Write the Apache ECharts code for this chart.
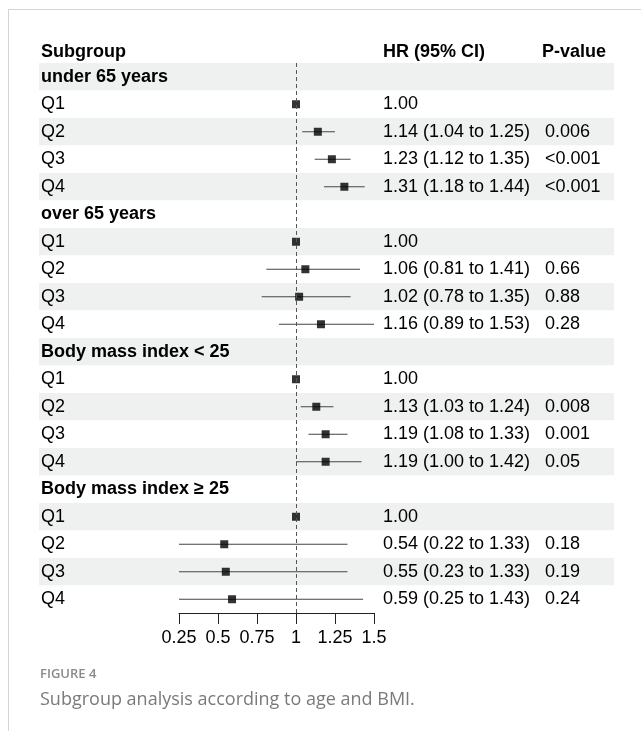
<!DOCTYPE html>
<html>
<head>
<meta charset="utf-8">
<script src="https://cdn.jsdelivr.net/npm/echarts@6/dist/echarts.min.js"></script>
<style>
  html, body { margin: 0; padding: 0; background: #fff; }
  #chart { width: 641px; height: 731px; }
</style>
</head>
<body>
<div id="chart"></div>
<script>
// Subgroups and quartile rows
const groups = ['under 65 years', 'over 65 years', 'Body mass index < 25', 'Body mass index \u2265 25'];
const quartiles = ['Q1', 'Q2', 'Q3', 'Q4'];

// Hazard ratios with 95% confidence limits (Q1 is the reference level)
const hr     = [[1.00, 1.14, 1.23, 1.31], [1.00, 1.06, 1.02, 1.16], [1.00, 1.13, 1.19, 1.19], [1.00, 0.54, 0.55, 0.59]];
const ciLow  = [[null, 1.04, 1.12, 1.18], [null, 0.81, 0.78, 0.89], [null, 1.03, 1.08, 1.00], [null, 0.22, 0.23, 0.25]];
const ciHigh = [[null, 1.25, 1.35, 1.44], [null, 1.41, 1.35, 1.53], [null, 1.24, 1.33, 1.42], [null, 1.33, 1.33, 1.43]];
const pValues = [['', '0.006', '<0.001', '<0.001'], ['', '0.66', '0.88', '0.28'], ['', '0.008', '0.001', '0.05'], ['', '0.18', '0.19', '0.24']];

// Hazard ratio axis
const xMin = 0.25, xMax = 1.5, xStep = 0.25, refLine = 1;

// Flatten into table rows
const rowLabels = [], rowIsGroup = [], hrText = [], pText = [];
const points = [], intervals = [];
groups.forEach((g, gi) => {
  rowLabels.push(g); rowIsGroup.push(true); hrText.push(''); pText.push('');
  quartiles.forEach((q, qi) => {
    const r = rowLabels.length;
    const v = hr[gi][qi], lo = ciLow[gi][qi], hi = ciHigh[gi][qi];
    rowLabels.push(q); rowIsGroup.push(false);
    hrText.push(v.toFixed(2) + (lo != null ? ' (' + lo.toFixed(2) + ' to ' + hi.toFixed(2) + ')' : ''));
    pText.push(pValues[gi][qi]);
    points.push([v, r]);
    if (lo != null) intervals.push([lo, hi, r]);
  });
});

const FONT = '"Liberation Sans", Arial, Helvetica, sans-serif';
const rowTop = 63, rowH = 27.5, nRows = rowLabels.length;
const tableLeft = 39, tableRight = 614, textPad = 2;
const hrCol = 383, pCol = 545;

const chart = echarts.init(document.getElementById('chart'), null, { renderer: 'canvas' });

const textAxis = (offset, formatter) => ({
  type: 'category', gridIndex: 1, inverse: true, position: 'left', offset: offset,
  data: rowLabels,
  axisLine: { show: false }, axisTick: { show: false }, splitLine: { show: false },
  axisLabel: {
    inside: true, margin: 0, interval: 0, color: '#000', fontSize: 18, fontFamily: FONT,
    formatter: formatter
  }
});

chart.setOption({
  animation: false,
  grid: [
    { left: 179, width: 195, top: rowTop, height: rowH * nRows, containLabel: false },
    { left: tableLeft, width: tableRight - tableLeft, top: rowTop, height: rowH * nRows, containLabel: false }
  ],
  xAxis: [
    {
      type: 'value', gridIndex: 0, min: xMin, max: xMax, interval: xStep,
      axisLine: { show: true, onZero: false, lineStyle: { color: '#222', width: 1 } },
      axisTick: { show: true, inside: false, length: 11, lineStyle: { color: '#222', width: 1 } },
      splitLine: { show: false },
      axisLabel: { color: '#000', fontSize: 18, fontFamily: FONT, margin: 16, hideOverlap: false }
    },
    { type: 'value', gridIndex: 1, show: false, min: 0, max: 1 }
  ],
  yAxis: [
    { type: 'category', gridIndex: 0, inverse: true, data: rowLabels, show: false },
    {
      type: 'category', gridIndex: 1, inverse: true, data: rowLabels, position: 'left',
      axisLine: { show: false }, axisTick: { show: false }, splitLine: { show: false },
      // shaded bands on alternating rows, starting with the first group row
      splitArea: { show: true, interval: 0, areaStyle: { color: ['#eef1f0', '#ffffff'] } },
      axisLabel: {
        inside: true, margin: textPad, interval: 0, color: '#000', fontSize: 18, fontFamily: FONT,
        formatter: (v, i) => rowIsGroup[i] ? '{b|' + v + '}' : v,
        rich: { b: { fontWeight: 'bold', fontSize: 18, fontFamily: FONT, color: '#000' } }
      }
    },
    textAxis(-(hrCol - tableLeft), (v, i) => hrText[i]),
    textAxis(-(pCol - tableLeft), (v, i) => pText[i])
  ],
  graphic: [
    // panel border
    { type: 'line', shape: { x1: 8.5, y1: 9.5, x2: 641, y2: 9.5 }, style: { stroke: '#d4d4d4', lineWidth: 1 } },
    { type: 'line', shape: { x1: 8.5, y1: 9.5, x2: 8.5, y2: 731 }, style: { stroke: '#d4d4d4', lineWidth: 1 } },
    // column headers
    { type: 'text', x: tableLeft + textPad, y: 52, style: { text: 'Subgroup', font: 'bold 18px ' + FONT, fill: '#000', verticalAlign: 'middle' } },
    { type: 'text', x: hrCol, y: 52, style: { text: 'HR (95% CI)', font: 'bold 18px ' + FONT, fill: '#000', verticalAlign: 'middle' } },
    { type: 'text', x: pCol - 3, y: 52, style: { text: 'P-value', font: 'bold 18px ' + FONT, fill: '#000', verticalAlign: 'middle' } },
    // caption
    { type: 'text', x: 40, y: 674, style: { text: 'FIGURE 4', font: '600 13px "Open Sans", sans-serif', fill: '#8a8a8a', verticalAlign: 'middle' } },
    { type: 'text', x: 40, y: 700, style: { text: 'Subgroup analysis according to age and BMI.', font: '18px "Open Sans", sans-serif', fill: '#7a7a7a', verticalAlign: 'middle' } }
  ],
  series: [
    {
      name: 'CI', type: 'custom', xAxisIndex: 0, yAxisIndex: 0, data: intervals,
      encode: { x: [0, 1], y: 2 }, z: 3,
      renderItem: (params, api) => {
        const cs = params.coordSys;
        const a = api.coord([api.value(0), api.value(2)]);
        const b = api.coord([api.value(1), api.value(2)]);
        const x1 = Math.max(a[0], cs.x), x2 = Math.min(b[0], cs.x + cs.width);
        return { type: 'line', shape: { x1: x1, y1: a[1], x2: x2, y2: a[1] }, style: { stroke: '#444', lineWidth: 1.2 } };
      }
    },
    {
      name: 'HR', type: 'scatter', xAxisIndex: 0, yAxisIndex: 0, data: points, z: 4,
      symbol: 'rect', symbolSize: 8, itemStyle: { color: '#000' },
      markLine: {
        silent: true, symbol: 'none', label: { show: false },
        lineStyle: { type: [4, 3], color: '#555', width: 1 },
        data: [{ xAxis: refLine }]
      }
    }
  ]
});
</script>
</body>
</html>
